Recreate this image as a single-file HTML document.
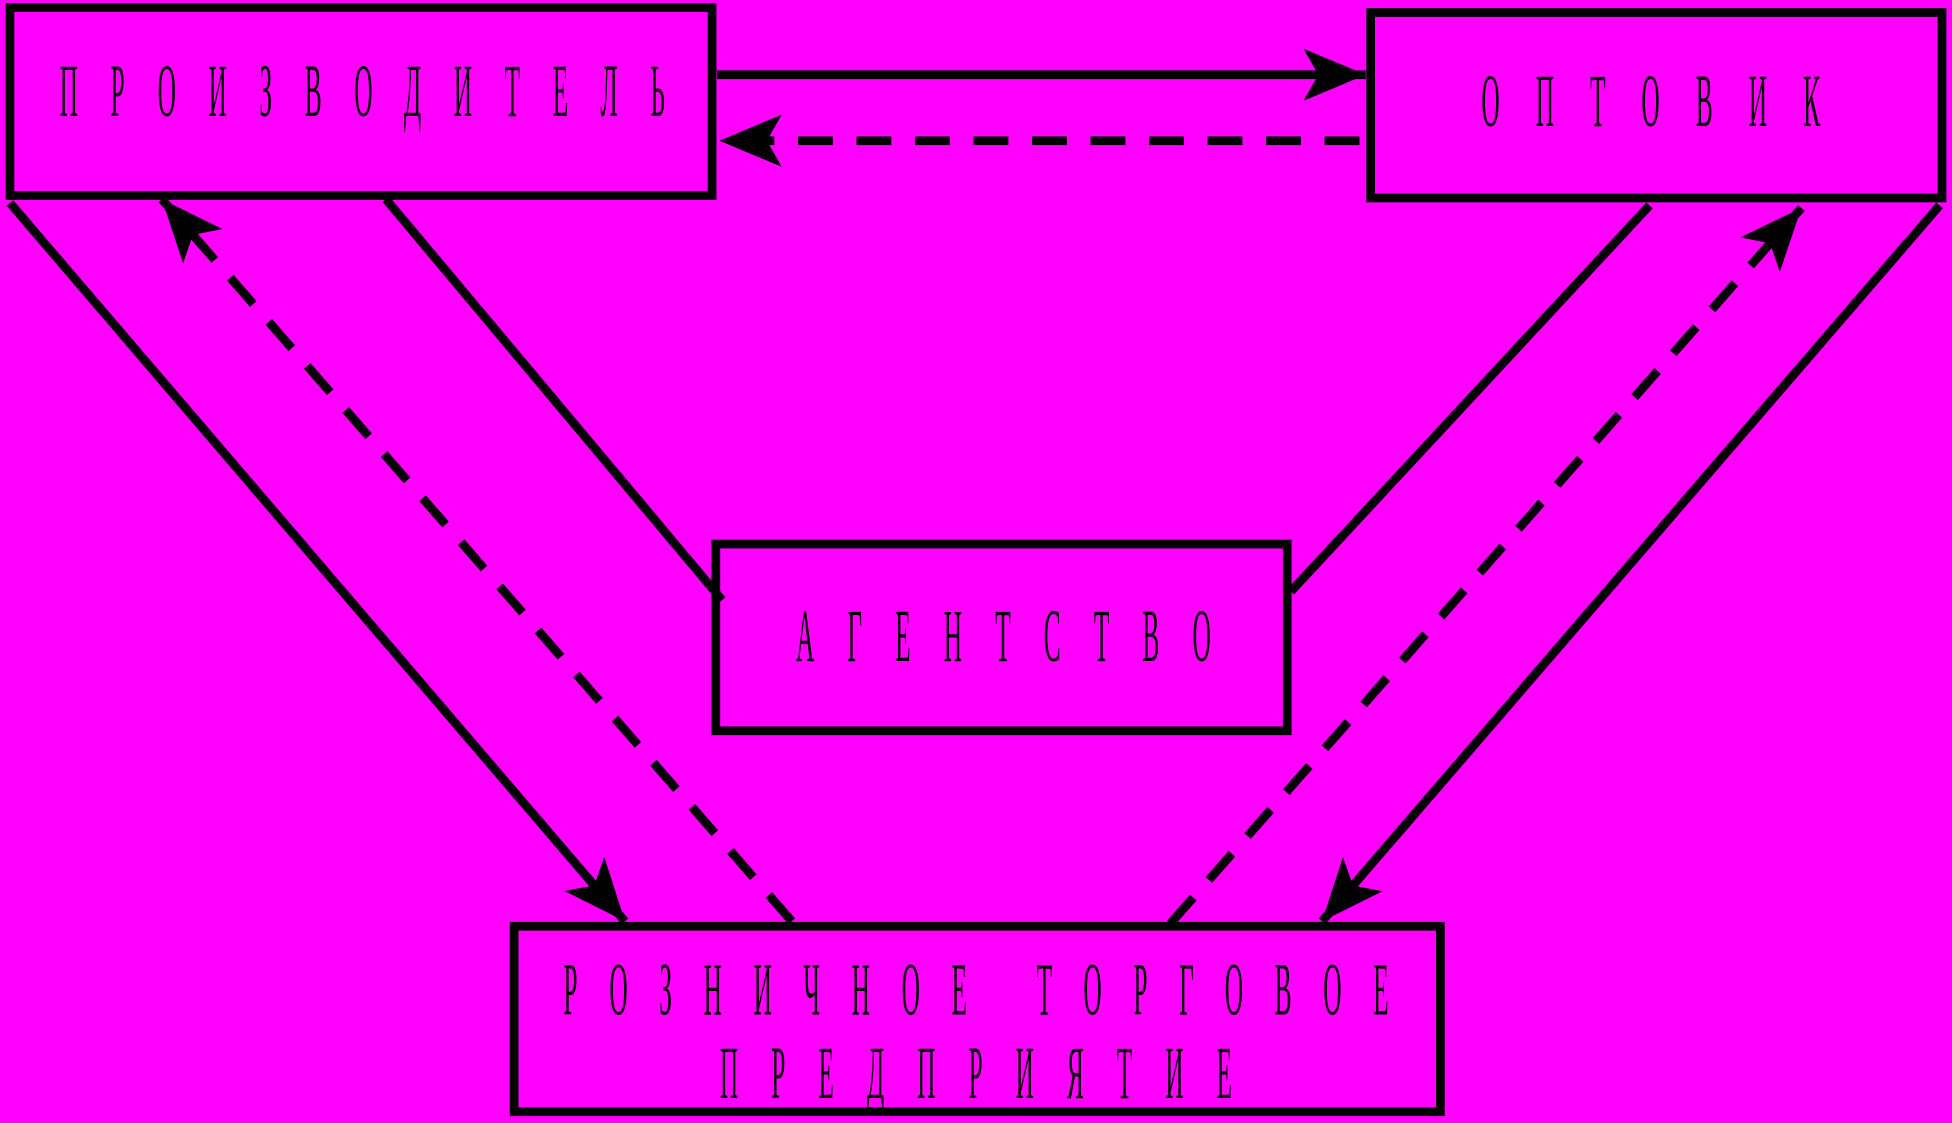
<!DOCTYPE html>
<html><head><meta charset="utf-8"><style>
html,body{margin:0;padding:0;background:#FF00FF;}
svg{display:block;}
text{font-family:"Liberation Serif","DejaVu Serif",serif;font-size:60px;fill:#000;}
</style></head><body>
<svg width="1952" height="1123" viewBox="0 0 1568 902" xmlns="http://www.w3.org/2000/svg">
<defs>
<marker id="a" markerUnits="userSpaceOnUse" markerWidth="70" markerHeight="60" refX="0" refY="0" viewBox="-60 -30 70 60" orient="auto" overflow="visible">
<path d="M0,0 L-50,-21 L-38,0 L-50,21 Z" fill="#000"/>
</marker>
</defs>
<rect width="1568" height="902" fill="#FF00FF"/>
<g fill="none" stroke="#000" stroke-width="7">
<rect x="8" y="6" width="564" height="151"/>
<rect x="1101" y="10" width="459" height="149"/>
<rect x="575" y="437" width="459" height="150"/>
<rect x="413" y="744" width="744" height="149"/>
<line x1="576" y1="60" x2="1097" y2="60" marker-end="url(#a)"/>
<line x1="8" y1="163" x2="502" y2="740" marker-end="url(#a)"/>
<line x1="310" y1="160" x2="580" y2="482"/>
<line x1="1325" y1="165" x2="1037" y2="475"/>
<line x1="1558" y1="165" x2="1062" y2="740" marker-end="url(#a)"/>
<line x1="1092" y1="113" x2="578" y2="113" stroke-dasharray="28 19" marker-end="url(#a)"/>
<line x1="636" y1="740" x2="130" y2="160" stroke-dasharray="28 19" marker-end="url(#a)"/>
<line x1="940" y1="742" x2="1447" y2="167" stroke-dasharray="28 19" marker-end="url(#a)"/>
</g>
<g>
<text transform="translate(291,93) scale(0.34,1)" text-anchor="middle" textLength="1430" lengthAdjust="spacing">ПРОИЗВОДИТЕЛЬ</text>
<text transform="translate(1326,101) scale(0.34,1)" text-anchor="middle" textLength="800" lengthAdjust="spacing">ОПТОВИК</text>
<text transform="translate(806,531) scale(0.34,1)" text-anchor="middle" textLength="980" lengthAdjust="spacing">АГЕНТСТВО</text>
<text transform="translate(784,815) scale(0.34,1)" text-anchor="middle" textLength="1950" lengthAdjust="spacing">РОЗНИЧНОЕ ТОРГОВОЕ</text>
<text transform="translate(784,882) scale(0.34,1)" text-anchor="middle" textLength="1210" lengthAdjust="spacing">ПРЕДПРИЯТИЕ</text>
</g>
</svg>
</body></html>
